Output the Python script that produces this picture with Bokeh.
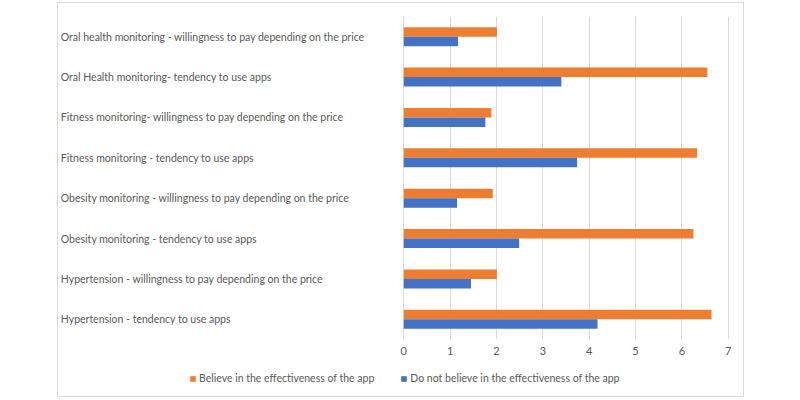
from bokeh.plotting import figure
from bokeh.models import (ColumnDataSource, FactorRange, Range1d, FixedTicker,
                          Legend, LegendItem)
from bokeh.layouts import column
from bokeh.transform import dodge
from bokeh.core.properties import value
from bokeh.embed import file_html
from bokeh.resources import INLINE

# ---- data (top to bottom as shown) ----
categories = [
    "Oral health monitoring - willingness to pay depending on the price",
    "Oral Health monitoring- tendency to use apps",
    "Fitness monitoring- willingness to pay depending on the price",
    "Fitness monitoring - tendency to use apps",
    "Obesity monitoring - willingness to pay depending on the price",
    "Obesity monitoring - tendency to use apps",
    "Hypertension - willingness to pay depending on the price",
    "Hypertension - tendency to use apps",
]
believe = [2.01, 6.55, 1.89, 6.33, 1.92, 6.25, 2.01, 6.64]
not_believe = [1.17, 3.40, 1.76, 3.74, 1.15, 2.49, 1.45, 4.18]
x_ticks = [0, 1, 2, 3, 4, 5, 6, 7]
series_names = ["Believe in the effectiveness of the app",
                "Do not believe in the effectiveness of the app"]

# ---- styles ----
ORANGE = "#ED7D31"
BLUE = "#4472C4"
GRID = "#d9d9d9"
TEXT = "#595959"
FONT = "Lato"
LABEL_X = -7.40

source = ColumnDataSource(dict(cat=categories, believe=believe,
                               not_believe=not_believe))

# ---- main chart ----
p = figure(
    y_range=FactorRange(factors=categories[::-1]),
    x_range=Range1d(-7.45, 7.33),
    width=685, height=360,
    min_border_left=0, min_border_right=0,
    min_border_top=13, min_border_bottom=24,
    output_backend="svg", toolbar_location=None,
)
p.outline_line_color = None
p.background_fill_color = "white"
p.border_fill_color = "white"

p.hbar(y=dodge("cat", 0.118, range=p.y_range), right="believe", left=0,
       height=0.236, source=source, fill_color=ORANGE, line_color=None)
p.hbar(y=dodge("cat", -0.118, range=p.y_range), right="not_believe", left=0,
       height=0.236, source=source, fill_color=BLUE, line_color=None)

p.text(x=LABEL_X, y="cat", text="cat", source=source,
       text_align="left", text_baseline="middle",
       text_font=value(FONT), text_font_size="10.5px", text_color=TEXT)

p.yaxis.visible = False
xa = p.xaxis[0]
xa.ticker = FixedTicker(ticks=x_ticks)
xa.axis_line_color = None
xa.major_tick_line_color = None
xa.minor_tick_line_color = None
xa.major_tick_out = 0
xa.major_tick_in = 0
xa.major_label_standoff = 7
xa.major_label_text_font = FONT
xa.major_label_text_font_size = "11px"
xa.major_label_text_color = TEXT

p.ygrid.visible = False
p.xgrid.ticker = FixedTicker(ticks=x_ticks)
p.xgrid.grid_line_color = GRID
p.xgrid.grid_line_width = 1

# ---- legend strip: same series, viewed outside their value range so only
# the legend swatches show ----
lp = figure(width=685, height=33, min_border=0,
            y_range=FactorRange(factors=categories[::-1]),
            x_range=Range1d(-2, -1),
            output_backend="svg", toolbar_location=None)
lp.outline_line_color = None
lp.axis.visible = False
lp.grid.visible = False
lr1 = lp.hbar(y="cat", right="believe", left=0, height=0.236, source=source,
              fill_color=ORANGE, line_color=None)
lr2 = lp.hbar(y="cat", right="not_believe", left=0, height=0.236, source=source,
              fill_color=BLUE, line_color=None)

legend = Legend(
    items=[LegendItem(label=series_names[0], renderers=[lr1]),
           LegendItem(label=series_names[1], renderers=[lr2])],
    orientation="horizontal", location=(131, 12),
    glyph_width=7, glyph_height=7, label_standoff=3, spacing=26,
    label_text_font=FONT, label_text_font_size="10.5px", label_text_color=TEXT,
    label_height=12, padding=4, margin=0,
    border_line_color=None, background_fill_alpha=0,
)
lp.add_layout(legend)

layout = column(p, lp, spacing=0)
layout.styles = {"border": "1px solid #d9d9d9", "margin-left": "57px",
                 "margin-top": "2px"}

open("out.html", "w").write(file_html(layout, INLINE))
